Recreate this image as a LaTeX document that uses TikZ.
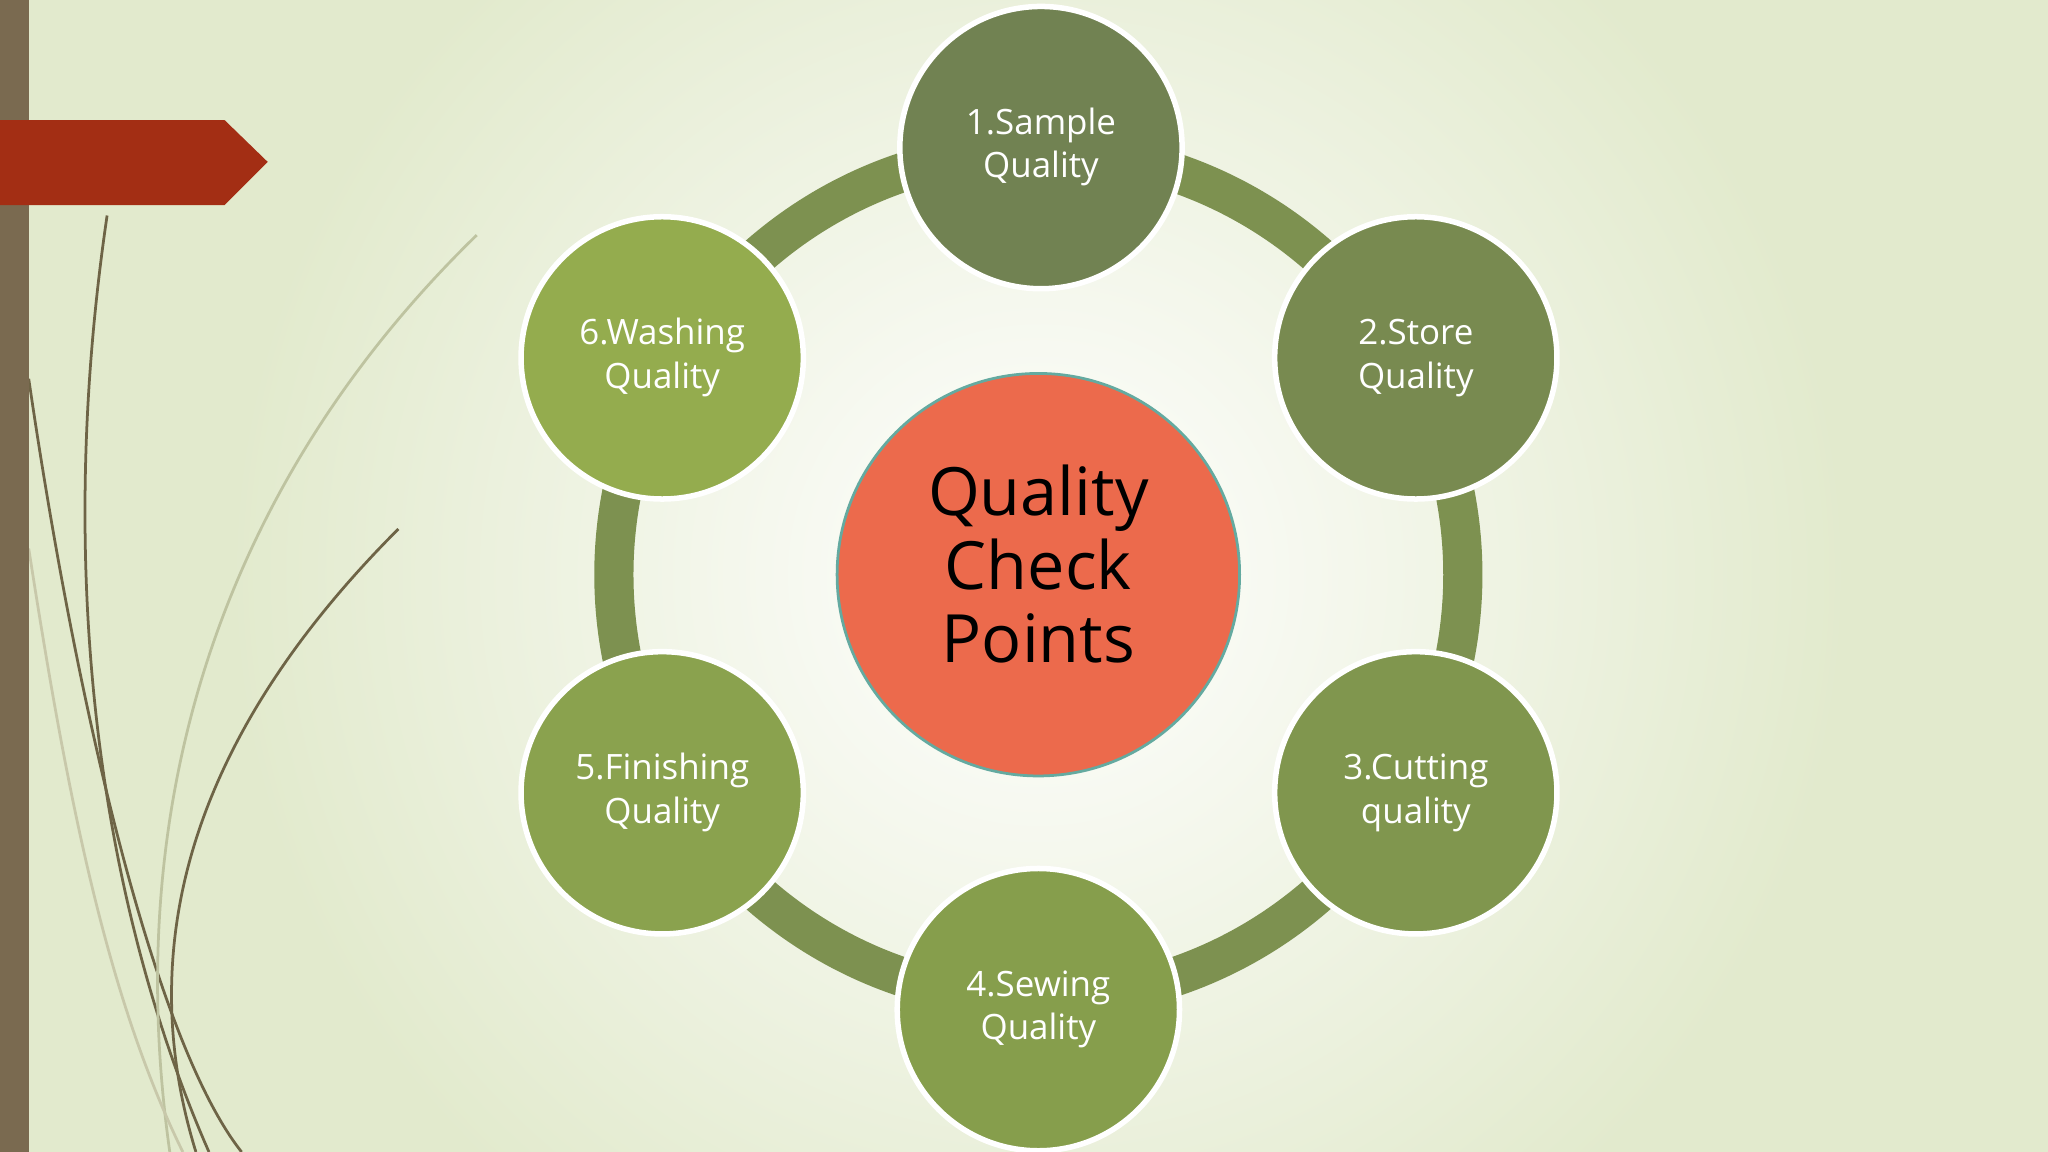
\documentclass[tikz,border=0pt]{standalone}
\usepackage{fontspec}
\setmainfont{Open Sans}
\newcommand{\uptext}[2]{\raisebox{#1}{\begin{tabular}{@{}c@{}}#2\end{tabular}}}
\begin{document}
\begin{tikzpicture}[x=0.01cm,y=-0.01cm,
  small/.style={circle,draw=white,line width=1.2pt,minimum size=2.16cm,inner sep=0pt,text=white,font=\fontsize{7.6pt}{9.4pt}\selectfont,align=center},
  grass/.style={line width=0.6pt}]
\useasboundingbox (0,0) rectangle (1568,882);
\fill[color={rgb,255:red,226;green,234;blue,205}] (0,0) rectangle (1568,882);
\begin{scope}
\clip (0,0) rectangle (1568,882);
\shade[inner color=white,outer color={rgb,255:red,226;green,234;blue,205}] (795,440) circle (620);
\end{scope}
% grass
\draw[grass,color={rgb,255:red,110;green,100;blue,70}] (82,165) .. controls (40,450) and (80,700) .. (160,882);
\draw[grass,color={rgb,255:red,110;green,100;blue,70}] (22,290) .. controls (60,550) and (120,800) .. (185,882);
\draw[grass,color={rgb,255:red,110;green,100;blue,70}] (305,405) .. controls (150,560) and (100,720) .. (150,882);
\draw[grass,color={rgb,255:red,190;green,195;blue,160}] (365,180) .. controls (180,360) and (90,600) .. (130,882);
\draw[grass,color={rgb,255:red,200;green,200;blue,170}] (22,420) .. controls (50,600) and (80,760) .. (140,882);
\fill[color={rgb,255:red,122;green,106;blue,80}] (0,0) rectangle (22,882);
\fill[color={rgb,255:red,163;green,46;blue,20}] (0,92) -- (172,92) -- (205,124) -- (172,157) -- (0,157) -- cycle;
% ring
\draw[line width=0.3cm,color={rgb,255:red,125;green,145;blue,80}] (795,440) circle (325);
\node[circle,fill={rgb,255:red,236;green,106;blue,76},draw={rgb,255:red,100;green,170;blue,160},line width=0.6pt,minimum size=3.08cm,inner sep=0pt,align=center,font=\fontsize{14.5pt}{16pt}\selectfont] (c) at (795,440) {\uptext{4pt}{Quality\\Check\\Points}};
\node[small,fill={rgb,255:red,113;green,130;blue,82}] (n1) at (797,113) {\uptext{2pt}{1.Sample\\Quality}};
\node[small,fill={rgb,255:red,120;green,138;blue,80}] (n2) at (1084,274) {\uptext{2pt}{2.Store\\Quality}};
\node[small,fill={rgb,255:red,128;green,150;blue,78}] (n3) at (1084,607) {\uptext{2pt}{3.Cutting\\quality}};
\node[small,fill={rgb,255:red,134;green,158;blue,76}] (n4) at (795,773) {\uptext{2pt}{4.Sewing\\Quality}};
\node[small,fill={rgb,255:red,138;green,162;blue,78}] (n5) at (507,607) {\uptext{2pt}{5.Finishing\\Quality}};
\node[small,fill={rgb,255:red,148;green,172;blue,78}] (n6) at (507,274) {\uptext{2pt}{6.Washing\\Quality}};
\end{tikzpicture}
\end{document}
